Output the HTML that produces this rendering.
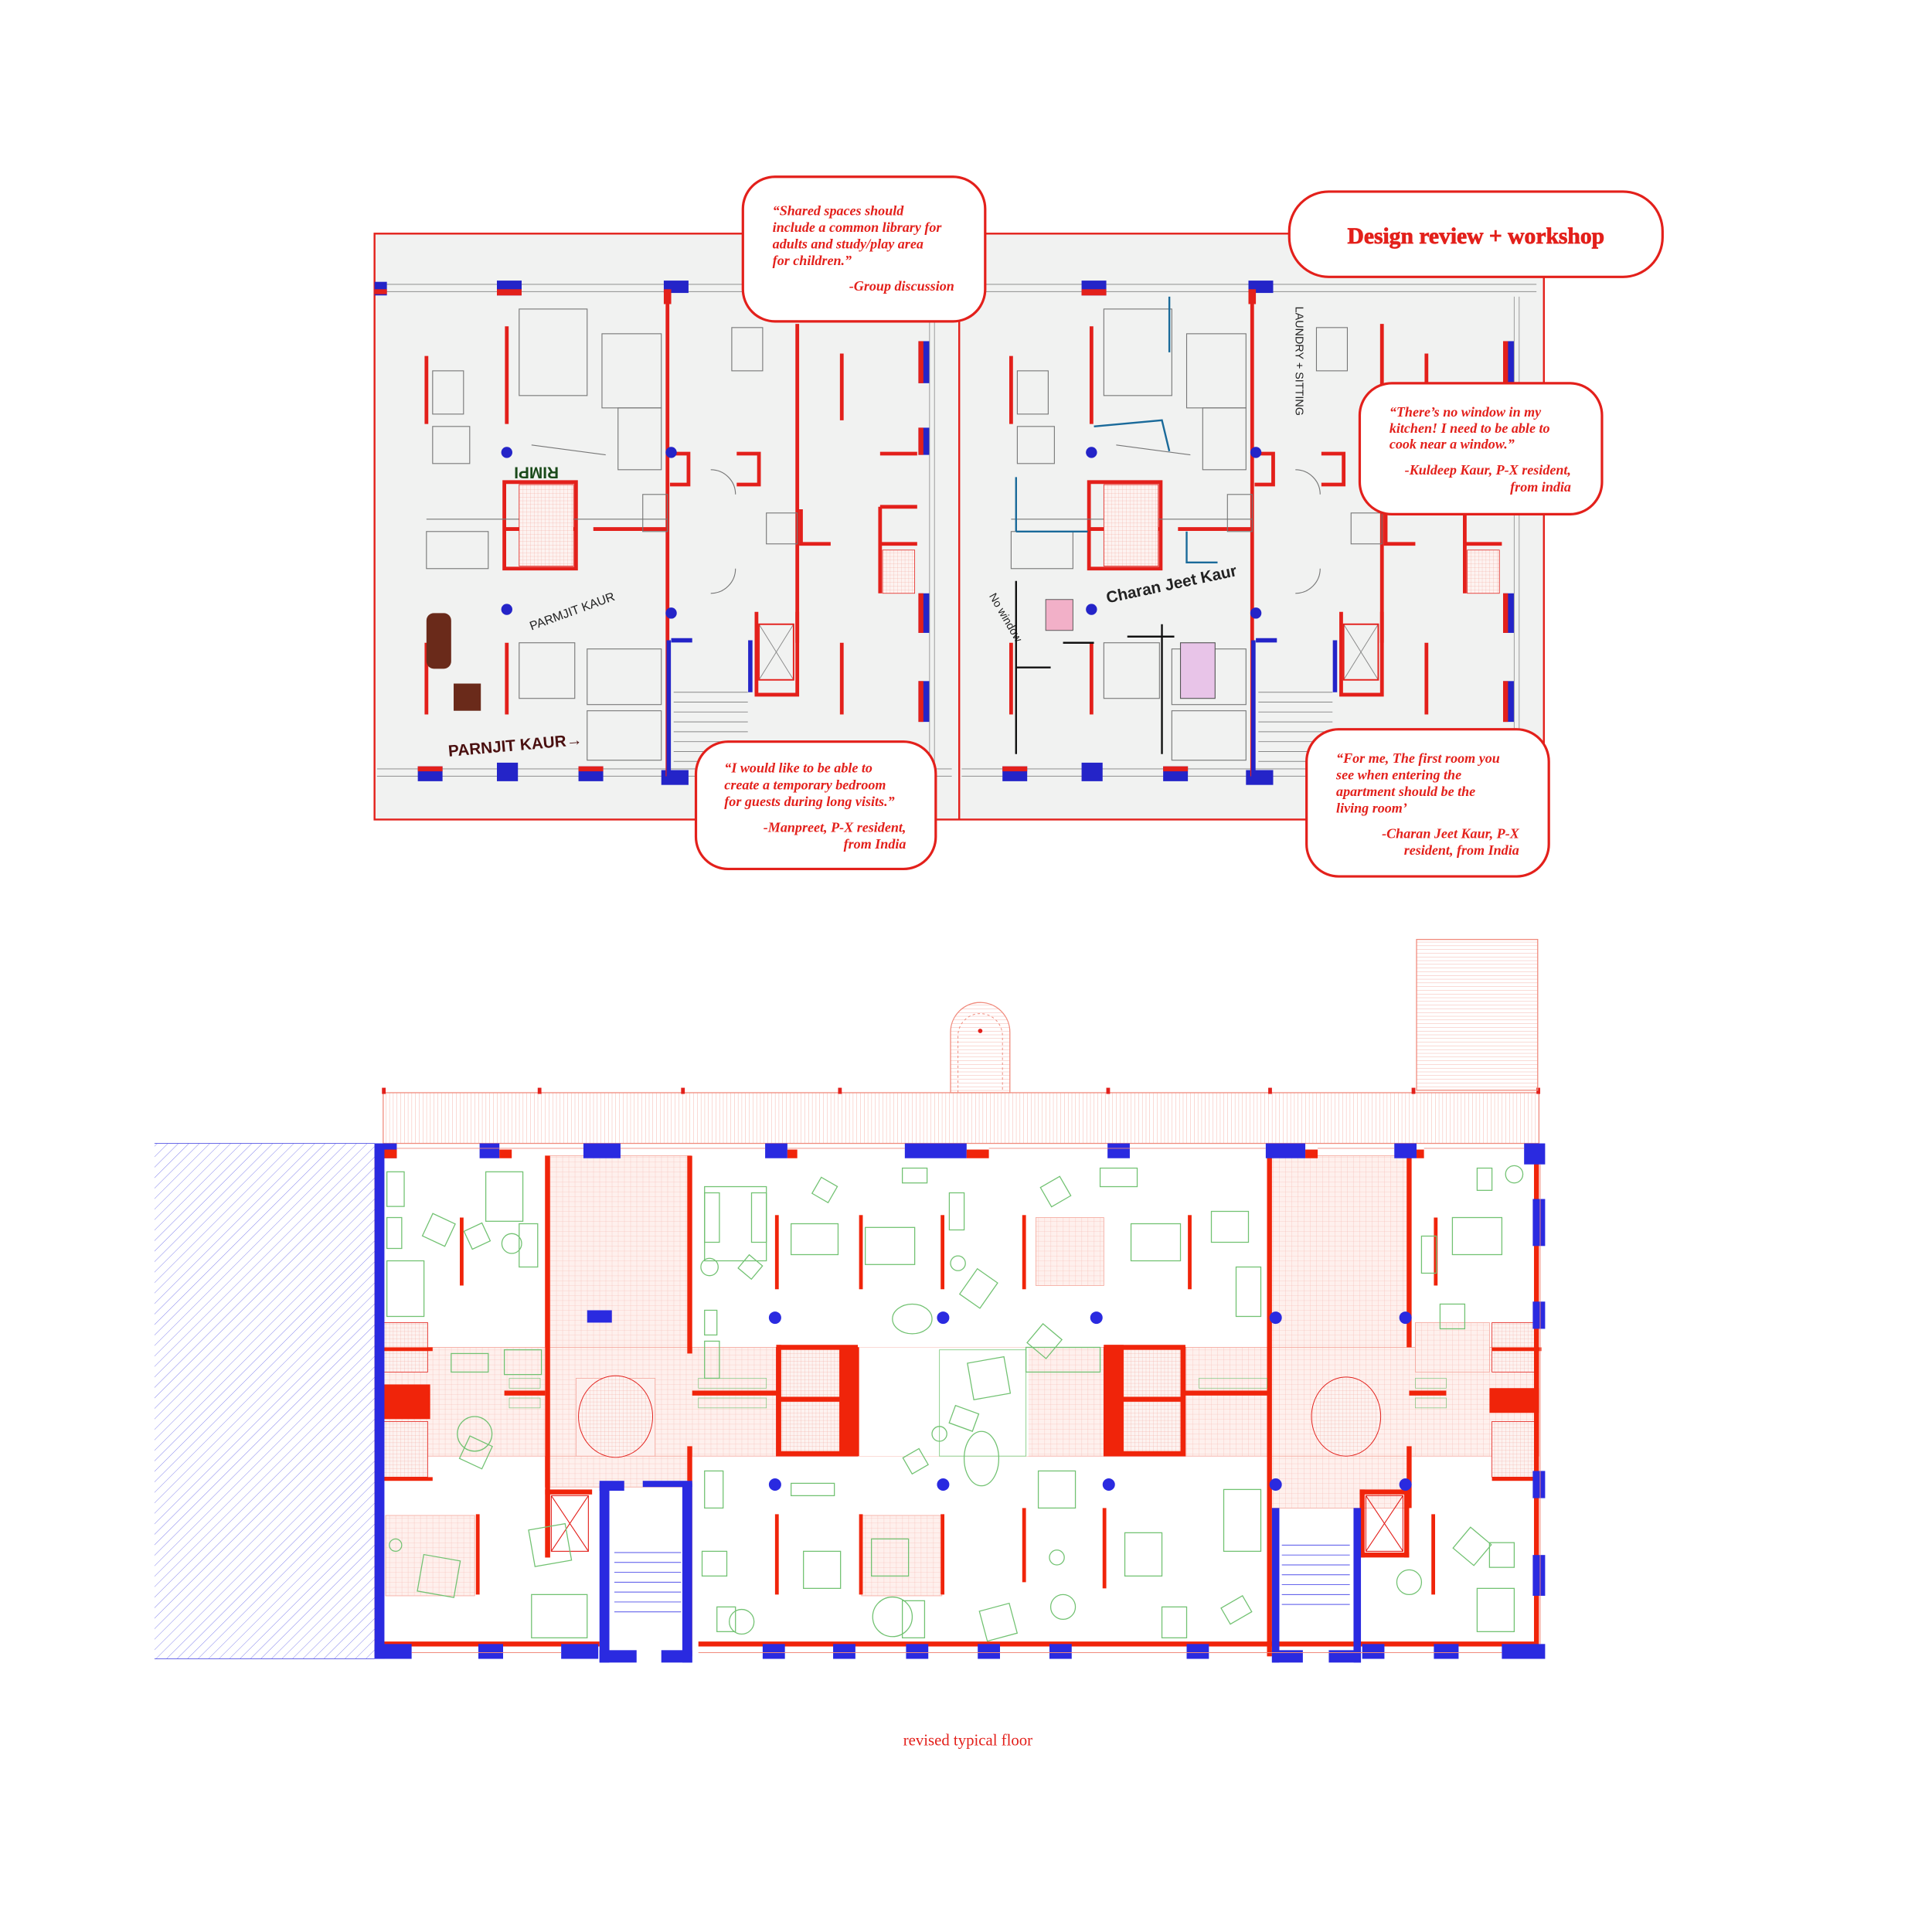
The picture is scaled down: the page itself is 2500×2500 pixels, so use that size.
<!DOCTYPE html>
<html><head><meta charset="utf-8"><style>
html,body{margin:0;padding:0;background:#fff;}
svg{display:block}
.q{font-family:"Liberation Serif",serif;font-style:italic;font-weight:bold;fill:#e3201b;font-size:11.3px}
.hw{font-family:"Liberation Sans",sans-serif;fill:#222;}
</style></head><body>
<svg width="2500" height="2500" viewBox="0 0 2500 2500" xmlns="http://www.w3.org/2000/svg">
<defs>
<pattern id="grid" width="5" height="4" patternUnits="userSpaceOnUse"><rect width="5" height="4" fill="#fef0ed"/><path d="M0 0H5M0 0V4" stroke="#f6b3a9" stroke-width="0.35"/></pattern>
<pattern id="fine" width="3" height="3" patternUnits="userSpaceOnUse"><rect width="3" height="3" fill="#fdf3f1"/><path d="M0 0H3M0 0V3" stroke="#f2a093" stroke-width="0.3"/></pattern>
<pattern id="hatch" width="6" height="6" patternUnits="userSpaceOnUse" patternTransform="rotate(45)"><path d="M0 0V6" stroke="#6a6ae8" stroke-width="0.5"/></pattern>
<pattern id="vl" width="3" height="10" patternUnits="userSpaceOnUse"><path d="M0 0V10" stroke="#f08a7c" stroke-width="0.4"/></pattern>
<pattern id="hl" width="10" height="3" patternUnits="userSpaceOnUse"><path d="M0 0H10" stroke="#f08a7c" stroke-width="0.4"/></pattern>
</defs>
<g transform="scale(1.5995)">
<!-- ================= TOP SKETCH ================= -->
<rect x="303" y="189" width="946" height="474" fill="#f1f2f1" stroke="#e3201b" stroke-width="1.5"/>
<line x1="776" y1="189" x2="776" y2="663" stroke="#e3201b" stroke-width="1.5"/>
<g id="sheet">
 <path d="M305 230H770M305 236H770M305 622H770M305 628H770" stroke="#9a9a9a" stroke-width="0.7"/>
 <rect x="303" y="228" width="10" height="11" fill="#2424c8"/><rect x="303" y="234" width="10" height="4" fill="#e3201b"/>
 <rect x="402" y="227" width="20" height="12" fill="#2424c8"/><rect x="402" y="234" width="20" height="5" fill="#e3201b"/>
 <rect x="537" y="227" width="20" height="10" fill="#2424c8"/><rect x="537" y="234" width="6" height="12" fill="#e3201b"/>
 <rect x="338" y="620" width="20" height="12" fill="#2424c8"/><rect x="338" y="620" width="20" height="4" fill="#e3201b"/>
 <rect x="402" y="617" width="17" height="15" fill="#2424c8"/>
 <rect x="468" y="620" width="20" height="12" fill="#2424c8"/><rect x="468" y="620" width="20" height="4" fill="#e3201b"/>
 <rect x="535" y="623" width="22" height="12" fill="#2424c8"/>
 <g fill="#2424c8"><rect x="743" y="276" width="9" height="34"/><rect x="743" y="346" width="9" height="22"/><rect x="743" y="480" width="9" height="32"/><rect x="743" y="551" width="9" height="33"/></g>
 <g fill="#e3201b"><rect x="743" y="276" width="4" height="34"/><rect x="743" y="346" width="4" height="22"/><rect x="743" y="480" width="4" height="32"/><rect x="743" y="551" width="4" height="33"/></g>
 <path d="M752 240V620M756 240V620" stroke="#9a9a9a" stroke-width="0.6"/>
 <g stroke="#e3201b" stroke-width="3" fill="none">
  <path d="M540 238V628"/><path d="M645 262V520"/><path d="M681 286V340"/><path d="M681 520V578"/>
  <path d="M345 288V343"/><path d="M410 264V343"/><path d="M345 520V578"/><path d="M410 520V578"/>
  <path d="M408 390V460H466V390Z"/><path d="M408 428H466"/><path d="M480 428H540"/>
  <path d="M542 367H557V392H542"/><path d="M596 367H614V392H596"/>
  <path d="M712 367H742M712 410V480M712 410H742M712 440H742"/>
  <path d="M612 495V562H645V495"/><path d="M648 412V440H672"/>
 </g>
 <g stroke="#2424c8" stroke-width="3.5" fill="none"><path d="M541 518V630"/><path d="M607 518V560"/><path d="M543 518H560"/></g>
 <g stroke="#888" stroke-width="0.6"><path d="M545 560H605M545 568H605M545 576H605M545 584H605M545 592H605M545 600H605M545 608H605M545 616H605"/></g>
 <path d="M614 505L642 550M642 505L614 550" stroke="#888" stroke-width="0.6"/><rect x="614" y="505" width="28" height="45" fill="none" stroke="#e3201b" stroke-width="1.2"/>
 <g fill="#2424c8"><circle cx="410" cy="366" r="4.5"/><circle cx="410" cy="493" r="4.5"/><circle cx="543" cy="366" r="4.5"/><circle cx="543" cy="496" r="4.5"/></g>
 <g stroke="#777" stroke-width="0.7" fill="none">
  <rect x="420" y="250" width="55" height="70"/><rect x="487" y="270" width="48" height="60"/><rect x="350" y="300" width="25" height="35"/>
  <rect x="350" y="345" width="30" height="30"/><rect x="500" y="330" width="35" height="50"/><rect x="420" y="520" width="45" height="45"/>
  <rect x="475" y="525" width="60" height="45"/><rect x="475" y="575" width="60" height="40"/><rect x="345" y="430" width="50" height="30"/>
  <rect x="592" y="265" width="25" height="35"/><rect x="520" y="400" width="20" height="30"/><rect x="620" y="415" width="25" height="25"/>
  <path d="M575 380A20 20 0 0 1 595 400M575 480A20 20 0 0 0 595 460M430 360L490 368M345 420H540"/>
 </g>
 <g stroke="#e3201b" stroke-width="0.5" fill="url(#fine)"><rect x="420" y="392" width="44" height="66"/><rect x="714" y="445" width="26" height="35"/></g>
</g>
<use href="#sheet" x="473"/>
<text x="412" y="388" class="hw" font-size="13" font-weight="bold" transform="rotate(180 432 383)" style="fill:#1a4a1a">RIMPI</text>
<text x="430" y="510" class="hw" font-size="10" transform="rotate(-20 430 510)">PARMJIT KAUR</text>
<text x="363" y="612" class="hw" font-size="13" font-weight="bold" style="fill:#4a1010" transform="rotate(-5 363 612)">PARNJIT KAUR→</text>
<text x="896" y="488" class="hw" font-size="13" font-weight="bold" transform="rotate(-12 896 488)">Charan Jeet Kaur</text>
<text x="1048" y="248" class="hw" font-size="9" transform="rotate(90 1048 248)">LAUNDRY + SITTING</text>
<text x="800" y="482" class="hw" font-size="9" transform="rotate(60 800 482)">No window</text>
<rect x="345" y="496" width="20" height="45" rx="6" fill="#6a2a1a"/><rect x="367" y="553" width="22" height="22" fill="#6a2a1a"/>
<rect x="846" y="485" width="22" height="25" fill="#f2b0c8" stroke="#555" stroke-width="0.6"/>
<rect x="955" y="520" width="28" height="45" fill="#e8c4e8" stroke="#555" stroke-width="0.7"/>
<g stroke="#1a6a9a" stroke-width="1.5" fill="none"><path d="M885 345L940 340L946 365"/><path d="M822 386V430M822 430H880"/><path d="M960 430V455H985"/><path d="M946 240V285"/></g>
<g stroke="#111" stroke-width="1.5" fill="none"><path d="M822 470V610M822 540H850M860 520H885M912 515H950M940 505V610"/></g>

<g fill="#fff" stroke="#e3201b" stroke-width="2">
 <rect x="601" y="143" width="196" height="117" rx="26"/>
 <rect x="1043" y="155" width="302" height="69" rx="32"/>
 <rect x="1100" y="310" width="196" height="106" rx="26"/>
 <rect x="563" y="600" width="194" height="103" rx="26"/>
 <rect x="1057" y="590" width="196" height="119" rx="26"/>
</g>
<text class="q"><tspan x="625" y="174">“Shared spaces should</tspan><tspan x="625" y="187.5">include a common library for</tspan><tspan x="625" y="201">adults and study/play area</tspan><tspan x="625" y="214.5">for children.”</tspan><tspan x="772" y="235" text-anchor="end">-Group discussion</tspan></text>
<text x="1194" y="197" text-anchor="middle" font-family="Liberation Serif,serif" font-weight="bold" font-size="18.5" fill="#e3201b" stroke="#e3201b" stroke-width="0.5">Design review + workshop</text>
<text class="q"><tspan x="1124" y="337">“There’s no window in my</tspan><tspan x="1124" y="350">kitchen! I need to be able to</tspan><tspan x="1124" y="363">cook near a window.”</tspan><tspan x="1271" y="384" text-anchor="end">-Kuldeep Kaur, P-X resident,</tspan><tspan x="1271" y="397.5" text-anchor="end">from india</tspan></text>
<text class="q"><tspan x="586" y="625">“I would like to be able to</tspan><tspan x="586" y="638.5">create a temporary bedroom</tspan><tspan x="586" y="652">for guests during long visits.”</tspan><tspan x="733" y="673" text-anchor="end">-Manpreet, P-X resident,</tspan><tspan x="733" y="686.5" text-anchor="end">from India</tspan></text>
<text class="q"><tspan x="1081" y="617">“For me, The first room you</tspan><tspan x="1081" y="630.5">see when entering the</tspan><tspan x="1081" y="644">apartment should be the</tspan><tspan x="1081" y="657.5">living room’</tspan><tspan x="1229" y="678" text-anchor="end">-Charan Jeet Kaur, P-X</tspan><tspan x="1229" y="691.5" text-anchor="end">resident, from India</tspan></text>

<!-- ================= BOTTOM PLAN ================= -->
<rect x="125" y="925" width="178" height="417" fill="url(#hatch)"/>
<path d="M125 925H303M125 1342H303" stroke="#6a6ae8" stroke-width="0.6"/>
<rect x="310" y="884" width="935" height="41" fill="url(#vl)" stroke="#f08a7c" stroke-width="0.8"/>
<g fill="#e3201b"><rect x="309" y="880" width="3" height="5"/><rect x="435" y="880" width="3" height="5"/><rect x="551" y="880" width="3" height="5"/><rect x="678" y="880" width="3" height="5"/><rect x="895" y="880" width="3" height="5"/><rect x="1026" y="880" width="3" height="5"/><rect x="1142" y="880" width="3" height="5"/><rect x="1243" y="880" width="3" height="5"/></g>
<rect x="1146" y="760" width="98" height="122" fill="url(#hl)" stroke="#f08a7c" stroke-width="0.8"/>
<path d="M769 884V835A24 24 0 0 1 817 835V884Z" fill="url(#hl)" stroke="#f08a7c" stroke-width="0.8"/>
<path d="M775 884V838A18 18 0 0 1 811 838V884" fill="none" stroke="#f08a7c" stroke-width="0.6" stroke-dasharray="2 2"/>
<circle cx="793" cy="834" r="1.8" fill="#e3201b"/>
<rect x="305" y="930" width="940" height="410" fill="#fff"/>
<g fill="url(#grid)" stroke="#f4a59a" stroke-width="0.5">
 <rect x="441" y="935" width="118" height="268"/><rect x="1027" y="935" width="113" height="285"/>
 <rect x="310" y="1090" width="935" height="88"/>
 <rect x="312" y="1226" width="72" height="65"/><rect x="697" y="1226" width="65" height="65"/><rect x="838" y="985" width="55" height="55"/><rect x="1145" y="1070" width="60" height="40"/>
</g>
<rect x="694" y="1090" width="138" height="88" fill="#fff"/>
<rect x="760" y="1092" width="70" height="86" fill="#fff" stroke="#8bd08b" stroke-width="0.6"/>
<rect x="466" y="1115" width="64" height="63" fill="#fdf0ee" stroke="#f4a59a" stroke-width="0.5"/>
<ellipse cx="498" cy="1146" rx="30" ry="33" fill="url(#fine)" stroke="#e3201b" stroke-width="0.6"/>
<ellipse cx="1089" cy="1146" rx="28" ry="32" fill="url(#fine)" stroke="#e3201b" stroke-width="0.6"/>
<g fill="url(#fine)" stroke="#e3201b" stroke-width="0.5"><rect x="628" y="1090" width="66" height="88"/><rect x="893" y="1090" width="66" height="88"/><rect x="310" y="1070" width="36" height="40"/><rect x="310" y="1150" width="36" height="45"/><rect x="1207" y="1070" width="36" height="40"/><rect x="1207" y="1150" width="36" height="45"/></g>
<g fill="#f0240a">
 <rect x="679" y="1090" width="16" height="88"/><rect x="628" y="1088" width="66" height="4"/><rect x="628" y="1174" width="66" height="4"/><rect x="628" y="1088" width="4" height="90"/>
 <rect x="893" y="1088" width="16" height="90"/><rect x="893" y="1088" width="66" height="4"/><rect x="893" y="1174" width="66" height="4"/><rect x="955" y="1090" width="4" height="88"/>
 <rect x="628" y="1130" width="66" height="4"/><rect x="893" y="1130" width="66" height="4"/>
 <rect x="310" y="1120" width="38" height="28"/><rect x="1205" y="1123" width="40" height="20"/>
 <rect x="441" y="935" width="4" height="325"/><rect x="556" y="935" width="4" height="160"/><rect x="556" y="1170" width="4" height="170"/>
 <rect x="1025" y="935" width="4" height="405"/><rect x="1138" y="935" width="4" height="155"/><rect x="1138" y="1170" width="4" height="50"/>
 <rect x="827" y="983" width="3" height="60"/><rect x="827" y="1220" width="3" height="60"/><rect x="961" y="983" width="3" height="60"/><rect x="892" y="1220" width="3" height="65"/>
 <rect x="627" y="983" width="3" height="60"/><rect x="695" y="983" width="3" height="60"/><rect x="627" y="1225" width="3" height="65"/><rect x="695" y="1225" width="3" height="65"/><rect x="761" y="1225" width="3" height="65"/><rect x="761" y="983" width="3" height="60"/>
 <rect x="372" y="985" width="3" height="55"/><rect x="385" y="1225" width="3" height="65"/><rect x="1158" y="1225" width="3" height="65"/><rect x="1160" y="985" width="3" height="55"/>
 <rect x="310" y="1090" width="40" height="3"/><rect x="310" y="1195" width="40" height="3"/><rect x="1207" y="1090" width="40" height="3"/><rect x="1207" y="1195" width="40" height="3"/>
 <rect x="408" y="1125" width="33" height="4"/><rect x="560" y="1125" width="68" height="4"/><rect x="959" y="1125" width="68" height="4"/><rect x="1140" y="1125" width="30" height="4"/>
 <rect x="441" y="1205" width="38" height="4"/><rect x="441" y="1205" width="4" height="55"/><rect x="1100" y="1205" width="40" height="4"/><rect x="1100" y="1205" width="4" height="55"/><rect x="1136" y="1205" width="4" height="55"/><rect x="1100" y="1256" width="40" height="4"/>
 <rect x="303" y="930" width="4" height="410"/><rect x="1241" y="935" width="4" height="405"/>
 <rect x="310" y="1328" width="175" height="4"/><rect x="565" y="1328" width="676" height="4"/>
</g>
<g fill="none" stroke="#e3201b" stroke-width="0.7"><rect x="446" y="1210" width="30" height="45"/><path d="M446 1210L476 1255M476 1210L446 1255"/><rect x="1105" y="1210" width="30" height="45"/><path d="M1105 1210L1135 1255M1135 1210L1105 1255"/></g>
<g fill="#2a2ae0">
 <rect x="485" y="1200" width="8" height="145"/><rect x="552" y="1200" width="8" height="145"/><rect x="485" y="1198" width="20" height="8"/><rect x="520" y="1198" width="40" height="5"/><rect x="485" y="1335" width="30" height="10"/><rect x="535" y="1335" width="25" height="10"/>
 <rect x="1029" y="1220" width="6" height="125"/><rect x="1095" y="1220" width="6" height="125"/><rect x="1029" y="1335" width="25" height="10"/><rect x="1075" y="1335" width="26" height="10"/>
</g>
<g stroke="#5050ea" stroke-width="0.6"><path d="M497 1256H551M497 1264H551M497 1272H551M497 1280H551M497 1288H551M497 1296H551M497 1304H551M1037 1250H1092M1037 1258H1092M1037 1266H1092M1037 1274H1092M1037 1282H1092M1037 1290H1092M1037 1298H1092"/></g>
<g fill="#2a2ae0">
 <rect x="303" y="925" width="8" height="417"/>
 <rect x="303" y="925" width="18" height="12"/><rect x="388" y="925" width="16" height="12"/><rect x="472" y="925" width="30" height="12"/><rect x="619" y="925" width="18" height="12"/><rect x="732" y="925" width="50" height="12"/><rect x="896" y="925" width="18" height="12"/><rect x="1024" y="925" width="32" height="12"/><rect x="1128" y="925" width="18" height="12"/><rect x="1233" y="925" width="17" height="17"/>
 <rect x="303" y="1330" width="30" height="12"/><rect x="387" y="1330" width="20" height="12"/><rect x="454" y="1330" width="30" height="12"/><rect x="617" y="1330" width="18" height="12"/><rect x="674" y="1330" width="18" height="12"/><rect x="733" y="1330" width="18" height="12"/><rect x="791" y="1330" width="18" height="12"/><rect x="849" y="1330" width="18" height="12"/><rect x="960" y="1330" width="18" height="12"/><rect x="1102" y="1330" width="18" height="12"/><rect x="1160" y="1330" width="20" height="12"/><rect x="1215" y="1330" width="35" height="12"/>
 <rect x="1240" y="970" width="10" height="38"/><rect x="1240" y="1053" width="10" height="22"/><rect x="1240" y="1190" width="10" height="22"/><rect x="1240" y="1258" width="10" height="33"/>
 <rect x="475" y="1060" width="20" height="10"/>
</g>
<g fill="#f0240a"><rect x="311" y="930" width="10" height="7"/><rect x="404" y="930" width="10" height="7"/><rect x="637" y="930" width="8" height="7"/><rect x="782" y="930" width="18" height="7"/><rect x="1056" y="930" width="10" height="7"/><rect x="1146" y="930" width="6" height="7"/></g>
<g fill="#2a2ae0"><circle cx="627" cy="1066" r="5"/><circle cx="763" cy="1066" r="5"/><circle cx="887" cy="1066" r="5"/><circle cx="1032" cy="1066" r="5"/><circle cx="1137" cy="1066" r="5"/><circle cx="627" cy="1201" r="5"/><circle cx="763" cy="1201" r="5"/><circle cx="897" cy="1201" r="5"/><circle cx="1032" cy="1201" r="5"/><circle cx="1137" cy="1201" r="5"/></g>
<g stroke="#f08a7c" stroke-width="0.6"><path d="M321 929H472M502 929H619M637 929H732M800 929H1024M1066 929H1128M1152 929H1233M333 1337H454M565 1337H1215M1246 942V1330"/></g>
<g fill="none" stroke="#72c272" stroke-width="0.8">
 <rect x="313" y="948" width="14" height="28"/><rect x="393" y="948" width="30" height="40"/><rect x="313" y="985" width="12" height="25"/><rect x="313" y="1020" width="30" height="45"/><rect x="420" y="990" width="15" height="35"/><circle cx="414" cy="1006" r="8"/><rect x="345" y="985" width="20" height="20" transform="rotate(25 355 995)"/><rect x="378" y="992" width="16" height="16" transform="rotate(-25 386 1000)"/>
 <rect x="570" y="960" width="50" height="60"/><rect x="570" y="965" width="12" height="40"/><rect x="608" y="965" width="12" height="40"/><circle cx="574" cy="1025" r="7"/><rect x="600" y="1018" width="14" height="14" transform="rotate(40 607 1025)"/>
 <rect x="640" y="990" width="38" height="25"/><rect x="660" y="955" width="15" height="15" transform="rotate(30 667 962)"/><rect x="700" y="993" width="40" height="30"/><rect x="730" y="945" width="20" height="12"/>
 <rect x="768" y="965" width="12" height="30"/><circle cx="775" cy="1022" r="6"/><rect x="782" y="1030" width="20" height="25" transform="rotate(35 792 1042)"/><ellipse cx="738" cy="1067" rx="16" ry="12"/><rect x="570" y="1060" width="10" height="20"/>
 <rect x="845" y="955" width="18" height="18" transform="rotate(-30 854 964)"/><rect x="890" y="945" width="30" height="15"/><rect x="915" y="990" width="40" height="30"/><rect x="980" y="980" width="30" height="25"/><rect x="1000" y="1025" width="20" height="40"/><rect x="835" y="1075" width="20" height="20" transform="rotate(40 845 1085)"/>
 <rect x="785" y="1100" width="30" height="30" transform="rotate(-10 800 1115)"/><rect x="770" y="1140" width="20" height="15" transform="rotate(20 780 1147)"/><ellipse cx="794" cy="1180" rx="14" ry="22"/><circle cx="760" cy="1160" r="6"/><rect x="733" y="1175" width="15" height="15" transform="rotate(-30 740 1182)"/>
 <rect x="570" y="1190" width="15" height="30"/><rect x="640" y="1200" width="35" height="10"/><rect x="650" y="1255" width="30" height="30"/><rect x="705" y="1245" width="30" height="30"/><rect x="730" y="1295" width="18" height="30"/><circle cx="722" cy="1308" r="16"/><rect x="580" y="1300" width="15" height="20"/><circle cx="600" cy="1312" r="10"/><rect x="568" y="1255" width="20" height="20"/>
 <rect x="830" y="1090" width="60" height="20"/><rect x="840" y="1190" width="30" height="30"/><rect x="910" y="1240" width="30" height="35"/><rect x="990" y="1205" width="30" height="50"/><circle cx="860" cy="1300" r="10"/><circle cx="855" cy="1260" r="6"/><rect x="795" y="1300" width="25" height="25" transform="rotate(-15 807 1312)"/><rect x="940" y="1300" width="20" height="25"/><rect x="990" y="1295" width="20" height="15" transform="rotate(-30 1000 1302)"/>
 <rect x="340" y="1260" width="30" height="30" transform="rotate(10 355 1275)"/><rect x="430" y="1235" width="30" height="30" transform="rotate(-10 445 1250)"/><rect x="375" y="1165" width="20" height="20" transform="rotate(25 385 1175)"/><circle cx="384" cy="1160" r="14"/><circle cx="320" cy="1250" r="5"/><rect x="430" y="1290" width="45" height="35"/>
 <rect x="1150" y="1000" width="12" height="30"/><rect x="1175" y="985" width="40" height="30"/><rect x="1195" y="945" width="12" height="18"/><circle cx="1225" cy="950" r="7"/><rect x="1165" y="1055" width="20" height="20"/><rect x="1180" y="1240" width="22" height="22" transform="rotate(40 1191 1251)"/><rect x="1195" y="1285" width="30" height="35"/><circle cx="1140" cy="1280" r="10"/><rect x="1205" y="1248" width="20" height="20"/>
 <rect x="408" y="1092" width="30" height="20"/><rect x="365" y="1095" width="30" height="15"/><rect x="570" y="1085" width="12" height="30"/>
</g>
<g fill="none" stroke="#72c272" stroke-width="0.4">
 <rect x="412" y="1115" width="25" height="8"/><rect x="412" y="1131" width="25" height="8"/><rect x="565" y="1115" width="55" height="8"/><rect x="565" y="1131" width="55" height="8"/><rect x="970" y="1115" width="55" height="8"/><rect x="1145" y="1115" width="25" height="8"/><rect x="1145" y="1131" width="25" height="8"/>
</g>
<text x="783" y="1412" text-anchor="middle" font-family="Liberation Serif,serif" font-size="13" fill="#e3201b">revised typical floor</text>
</g>
</svg>
</body></html>
